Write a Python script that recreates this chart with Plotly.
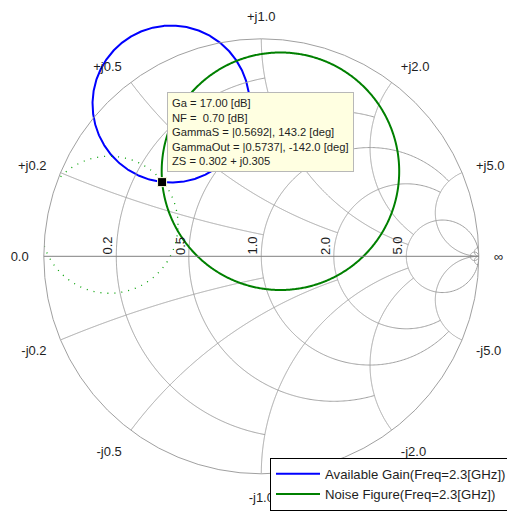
import numpy as np
import plotly.graph_objects as go

# ---- chart data -------------------------------------------------------------
# Grid values (normalised resistance / reactance)
grid_values = [0.2, 0.5, 1.0, 2.0, 5.0]
grid_labels = ["0.2", "0.5", "1.0", "2.0", "5.0"]
# How far each constant-r circle runs in |x|, and each constant-x arc runs in r
r_circle_limit = [1.0, 2.0, 5.0, 5.0, np.inf]
x_arc_limit = [1.0, 2.0, 5.0, 5.0, np.inf]
# small circle around the open-circuit point
tiny_values = [50.0]

# Available gain circle (Ga = 17 dB) in the reflection plane: centre, radius
ga_center = (-0.415, 0.700)
ga_radius = 0.361
# Noise figure circle (NF = 0.70 dB)
nf_center = (0.088, 0.391)
nf_radius = 0.546
# secondary noise circle (dotted)
nf2_center = (-0.698, 0.145)
nf2_radius = 0.315

# Selected source point ZS
zs_real = [0.302]
zs_imag = [0.305]

imag_label_values = [0.2, 0.5, 1.0, 2.0, 5.0, -0.2, -0.5, -1.0, -2.0, -5.0]
imag_label_text = ["+j0.2", "+j0.5", "+j1.0", "+j2.0", "+j5.0",
                   "-j0.2", "-j0.5", "-j1.0", "-j2.0", "-j5.0"]

readout = ["Ga = 17.00 [dB]",
           "NF =\u00a0 0.70 [dB]",
           "GammaS = |0.5692|, 143.2 [deg]",
           "GammaOut = |0.5737|, -142.0 [deg]",
           "ZS = 0.302 + j0.305"]

legend_names = ["Available Gain(Freq=2.3[GHz])", "Noise Figure(Freq=2.3[GHz])"]

# ---- page geometry ----------------------------------------------------------
W, H = 507, 512
CX, CY, R = 261.3, 256.3, 217.5          # chart centre and radius, px
GRID_COLOR = "#a0a0a0"
TEXT_COLOR = "#1e1e1e"
FONT = "Liberation Sans, Arial, sans-serif"


def gamma_to_z(g):
    return (1 + g) / (1 - g)


def circle_in_gamma(center, radius, n=721):
    t = np.linspace(0, 2 * np.pi, n)
    return complex(*center) + radius * np.exp(1j * t)


def const_r(r, xmax):
    lim = np.arctan(xmax) if np.isfinite(xmax) else np.pi / 2 - 1e-4
    x = np.tan(np.linspace(-lim, lim, 601))
    return np.full_like(x, r), x


def const_x(x, rmax):
    lim = np.arctan(rmax) if np.isfinite(rmax) else np.pi / 2 - 1e-4
    r = np.tan(np.linspace(0, lim, 601))
    return r, np.full_like(r, x)


fig = go.Figure()

# gain circle: part of it lies outside |Gamma| = 1, so it is drawn on a plain
# Gamma-plane cartesian frame laid exactly under the Smith chart
g = circle_in_gamma(ga_center, ga_radius)
fig.add_trace(go.Scatter(x=g.real, y=g.imag, mode="lines",
                         line=dict(color="#0000ff", width=2),
                         name=legend_names[0], hoverinfo="skip"))

# grid: clipped constant-resistance circles and constant-reactance arcs
grid_line = dict(color=GRID_COLOR, width=1)
for v, lim in zip(grid_values + tiny_values, r_circle_limit + [np.inf]):
    re, im = const_r(v, lim)
    fig.add_trace(go.Scattersmith(real=re, imag=im, mode="lines", line=grid_line,
                                  hoverinfo="skip", showlegend=False))
for v, lim in zip(grid_values + tiny_values, x_arc_limit + [np.inf]):
    for s in (1, -1):
        re, im = const_x(s * v, lim)
        fig.add_trace(go.Scattersmith(real=re, imag=im, mode="lines", line=grid_line,
                                      hoverinfo="skip", showlegend=False))

# noise figure circles
z = gamma_to_z(circle_in_gamma(nf_center, nf_radius))
fig.add_trace(go.Scattersmith(real=z.real, imag=z.imag, mode="lines",
                              line=dict(color="#008000", width=2),
                              name=legend_names[1], hoverinfo="skip"))
g = circle_in_gamma(nf2_center, nf2_radius)
g = np.where(np.abs(g) <= 0.999, g, np.nan)
z = gamma_to_z(g)
fig.add_trace(go.Scattersmith(real=z.real, imag=z.imag, mode="lines",
                              line=dict(color="#00a000", width=1.3, dash="1px,6px"),
                              showlegend=False, hoverinfo="skip"))

fig.add_trace(go.Scattersmith(real=zs_real, imag=zs_imag, mode="markers",
                              marker=dict(symbol="square", size=9, color="black",
                                          line=dict(color="#ffffe1", width=1)),
                              showlegend=False, hoverinfo="skip"))

# outer labels (reactance values, short and open circuit) on a bare polar axis
label_angles = [(180 - 2 * np.degrees(np.arctan(v))) % 360 for v in imag_label_values]
label_angles += [180, 0]
label_text = imag_label_text + ["0.0", "\u221e"]
fig.add_trace(go.Scatterpolar(r=[], theta=[], showlegend=False, hoverinfo="skip"))

domain = dict(x=[(CX - R) / W, (CX + R) / W], y=[1 - (CY + R) / H, 1 - (CY - R) / H])
tick_font = dict(family=FONT, size=13, color=TEXT_COLOR)

# resistance labels, written upward just left of each circle's crossing
annotations = []
for v, txt in zip(grid_values, grid_labels):
    annotations.append(dict(
        text=txt, textangle=-90, xref="x", yref="y",
        x=(v - 1) / (v + 1), y=0, xshift=-8.5, yshift=0.5,
        xanchor="center", yanchor="bottom",
        showarrow=False, font=tick_font, borderpad=0))

annotations.append(dict(
    text="<br>".join(readout), xref="paper", yref="paper",
    x=167 / W, y=1 - 92 / H, xanchor="left", yanchor="top",
    align="left", showarrow=False, bgcolor="#ffffe1",
    bordercolor="#b8b8b8", borderwidth=1, borderpad=4,
    font=dict(family=FONT, size=11.2, color=TEXT_COLOR),
))

fig.update_layout(
    width=W, height=H, margin=dict(l=0, r=0, t=0, b=0, autoexpand=False),
    paper_bgcolor="white", plot_bgcolor="rgba(0,0,0,0)",
    font=dict(family=FONT, size=13, color=TEXT_COLOR),
    # Gamma-plane frame covering the whole page at the Smith chart's scale
    xaxis=dict(visible=False, domain=[0, 1], range=[-CX / R, (W - CX) / R]),
    yaxis=dict(visible=False, domain=[0, 1], range=[-(H - CY) / R, CY / R]),
    smith=dict(
        domain=domain,
        bgcolor="rgba(0,0,0,0)",
        realaxis=dict(tickvals=grid_values, showticklabels=False,
                      showgrid=False, linecolor="#808080", linewidth=1, ticks=""),
        imaginaryaxis=dict(tickvals=grid_values, showgrid=False, showticklabels=False,
                           ticks="", linecolor=GRID_COLOR, linewidth=1),
    ),
    polar=dict(
        domain=domain,
        bgcolor="rgba(0,0,0,0)",
        radialaxis=dict(visible=False),
        angularaxis=dict(tickmode="array", tickvals=label_angles, ticktext=label_text,
                         showgrid=False, showline=False, ticks="outside", ticklen=12,
                         tickcolor="rgba(0,0,0,0)", tickfont=tick_font,
                         rotation=0, direction="counterclockwise"),
    ),
    legend=dict(x=270 / W, y=1.3 / H, xanchor="left", yanchor="bottom",
                bgcolor="white", bordercolor="black", borderwidth=1,
                font=dict(family=FONT, size=13.2, color=TEXT_COLOR),
                tracegroupgap=0, itemwidth=44),
    annotations=annotations,
)

fig.write_html("out.html")
